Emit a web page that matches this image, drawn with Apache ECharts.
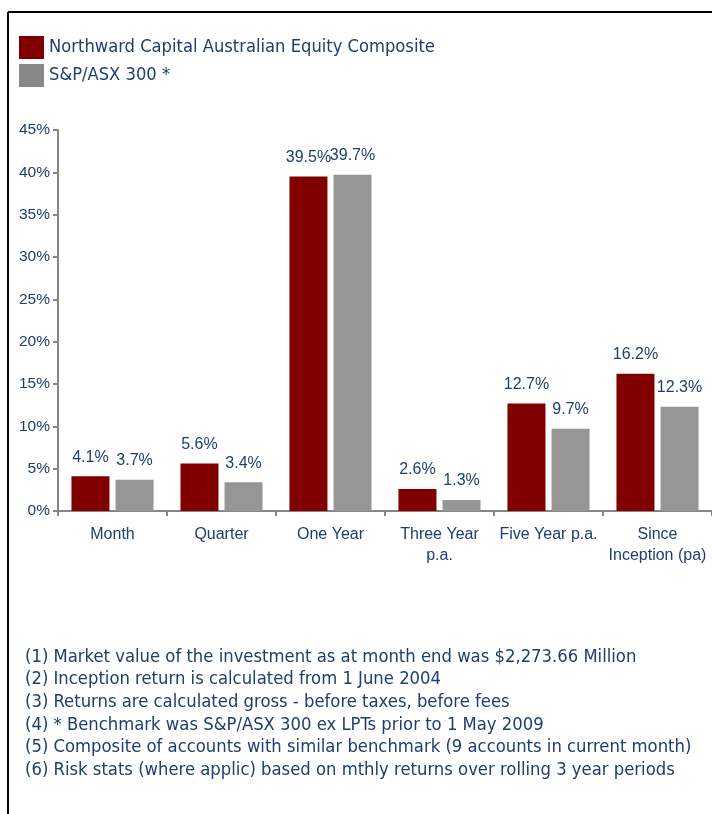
<!DOCTYPE html>
<html>
<head>
<meta charset="utf-8">
<script src="https://cdn.jsdelivr.net/npm/echarts@6/dist/echarts.min.js"></script>
<style>
  html, body { margin: 0; padding: 0; background: #fff; }
  #chart { width: 712px; height: 814px; }
</style>
</head>
<body>
<div id="chart"></div>
<script>
// categories and values
const categories = ["Month", "Quarter", "One Year", "Three Year\np.a.", "Five Year p.a.", "Since\nInception (pa)"];
const composite = [4.1, 5.6, 39.5, 2.6, 12.7, 16.2];
const benchmark = [3.7, 3.4, 39.7, 1.3, 9.7, 12.3];
const yTicks = { min: 0, max: 45, interval: 5 };
const seriesNames = ["Northward Capital Australian Equity Composite", "S&P/ASX 300 *"];
const footnotes = [
  "(1) Market value of the investment as at month end was $2,273.66 Million",
  "(2) Inception return is calculated from 1 June 2004",
  "(3) Returns are calculated gross - before taxes, before fees",
  "(4) * Benchmark was S&P/ASX 300 ex LPTs prior to 1 May 2009",
  "(5) Composite of accounts with similar benchmark (9 accounts in current month)",
  "(6) Risk stats (where applic) based on mthly returns over rolling 3 year periods"
];

const navy = "#1f3d6e";
const noteFont = "'DejaVu Sans Condensed', 'DejaVu Sans', sans-serif";
const axisFont = "'Liberation Sans', Arial, sans-serif";

let myChart = echarts.init(document.getElementById("chart"));

// footnotes under the plot
let notes = footnotes.map((t, i) => ({
  type: "text",
  x: 25,
  y: 657 + i * 22.6,
  style: { text: t, fill: navy, font: "18.3px " + noteFont, verticalAlign: "middle" }
}));

myChart.setOption({
  animation: false,
  legend: {
    orient: "vertical",
    left: 19,
    top: 36,
    padding: 0,
    itemWidth: 25,
    itemHeight: 23,
    itemGap: 5,
    icon: "rect",
    textStyle: { color: navy, fontSize: 18.2, fontFamily: noteFont, padding: [3, 0, 0, 0] },
    data: [
      { name: seriesNames[0], itemStyle: { color: "#800000" } },
      { name: seriesNames[1], itemStyle: { color: "#888888" } }
    ]
  },
  grid: {
    left: 58,
    right: 0,
    top: 130,
    bottom: 303
  },
  xAxis: {
    type: "category",
    data: categories,
    axisLine: { lineStyle: { color: "#868686", width: 2 } },
    axisTick: { show: true, length: 5, lineStyle: { color: "#868686", width: 2 } },
    axisLabel: {
      color: navy,
      fontSize: 16,
      fontFamily: axisFont,
      margin: 13,
      lineHeight: 21,
      interval: 0
    }
  },
  yAxis: {
    type: "value",
    min: yTicks.min,
    max: yTicks.max,
    interval: yTicks.interval,
    splitLine: { show: false },
    axisLine: { show: true, lineStyle: { color: "#868686", width: 2 } },
    axisTick: { show: true, length: 5, lineStyle: { color: "#868686", width: 2 } },
    axisLabel: {
      color: navy,
      fontSize: 15.5,
      fontFamily: axisFont,
      margin: 8,
      formatter: "{value}%"
    }
  },
  series: [
    {
      name: seriesNames[0],
      type: "bar",
      data: composite,
      barWidth: 38,
      barGap: "16%",
      itemStyle: { color: "#800000" },
      label: {
        show: true,
        position: "top",
        distance: 11,
        color: navy,
        fontSize: 16,
        fontFamily: axisFont,
        formatter: p => p.value.toFixed(1) + "%"
      }
    },
    {
      name: seriesNames[1],
      type: "bar",
      data: benchmark,
      barWidth: 38,
      itemStyle: { color: "#969696" },
      label: {
        show: true,
        position: "top",
        distance: 11,
        color: navy,
        fontSize: 16,
        fontFamily: axisFont,
        formatter: p => p.value.toFixed(1) + "%"
      }
    }
  ],
  graphic: [
    {
      type: "line",
      shape: { x1: 8, y1: 12, x2: 712, y2: 12 },
      style: { stroke: "#000", lineWidth: 2 }
    },
    {
      type: "line",
      shape: { x1: 8, y1: 12, x2: 8, y2: 814 },
      style: { stroke: "#000", lineWidth: 2 }
    }
  ].concat(notes)
});
</script>
</body>
</html>
